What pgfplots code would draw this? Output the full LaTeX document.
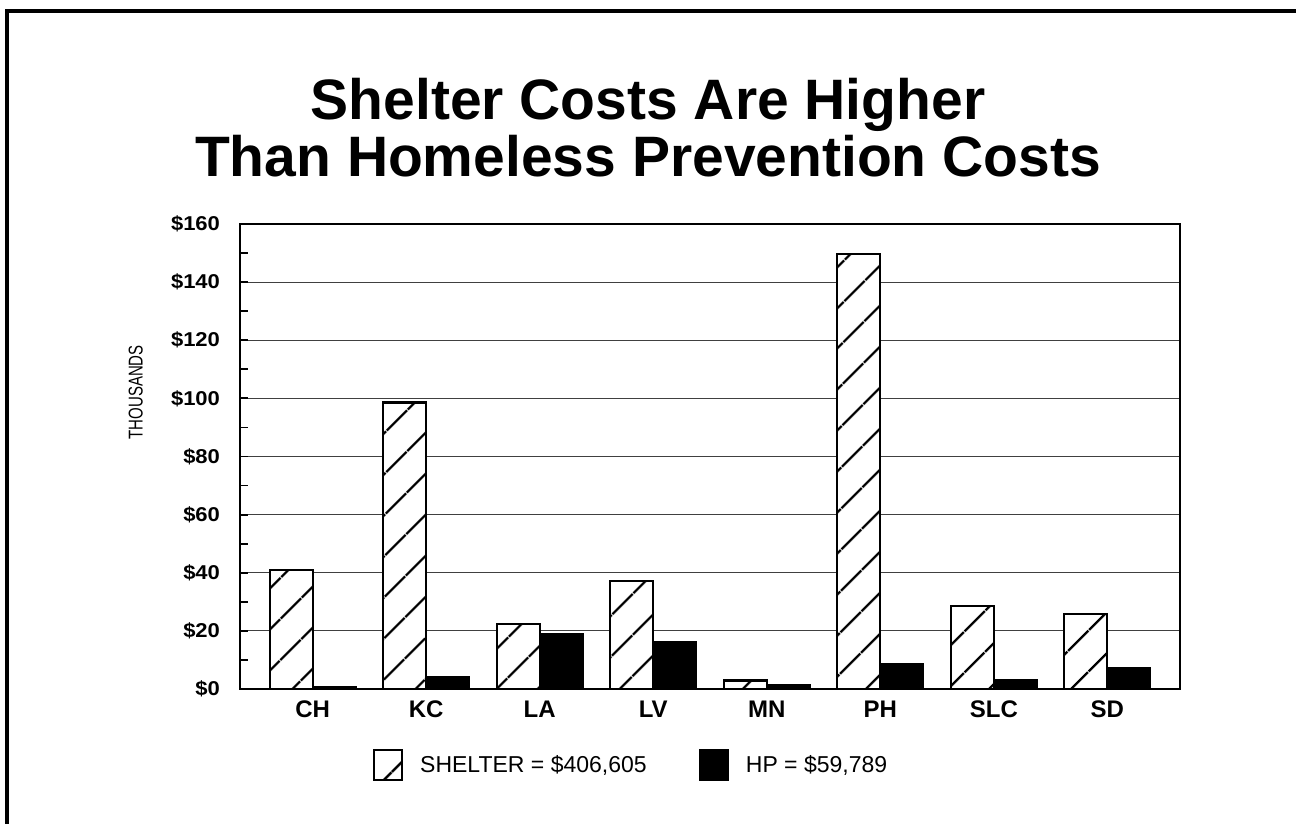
\documentclass[border=0pt]{standalone}
\usepackage{pgfplots}
\pgfplotsset{compat=1.18}
\usepackage{fontspec}
\setmainfont{Liberation Sans}
\newfontfamily\narrowfont[FakeStretch=0.75]{Liberation Sans}
\newfontfamily\widefont[FakeStretch=1.1]{Liberation Sans}
\usetikzlibrary{patterns.meta}

\pgfplotstableread{
x  shelter  hp
0  40.9     0.8
1  98.6     4.0
2  22.4     18.8
3  37.1     16.2
4  2.9      1.2
5  149.7    8.6
6  28.5     3.2
7  25.8     7.2
}\costdata

\begin{document}
\begin{tikzpicture}
\path[use as bounding box] (0,0) rectangle (648bp,412bp);
\draw[line width=2bp] (3.5bp,0) -- (3.5bp,406.5bp) -- (648bp,406.5bp);
\node[anchor=base, font=\fontsize{28.5bp}{30bp}\selectfont\bfseries] at (324bp,352bp) {Shelter Costs Are Higher};
\node[anchor=base, font=\fontsize{28.5bp}{30bp}\selectfont\bfseries] at (324bp,323.5bp) {Than Homeless Prevention Costs};
\begin{axis}[
  at={(120bp,67.5bp)}, anchor=south west,
  scale only axis, width=470bp, height=232.5bp,
  xmin=-0.64, xmax=7.64, ymin=0, ymax=160,
  ybar=0pt, bar width=21.5bp,
  xtick={0,...,7}, xticklabels={CH,KC,LA,LV,MN,PH,SLC,SD},
  x tick style={draw=none},
  xticklabel style={font=\fontsize{12bp}{14bp}\selectfont\bfseries, yshift=-2.5bp},
  ytick={0,20,...,160},
  yticklabels={\$0,\$20,\$40,\$60,\$80,\$100,\$120,\$140,\$160},
  yticklabel style={font=\widefont\fontsize{10bp}{12bp}\selectfont\bfseries, xshift=-6.5bp},
  minor y tick num=1,
  tick align=inside, ytick pos=left,
  major tick length=4bp, minor tick length=4bp,
  y tick style={line width=0.9bp, black},
  ymajorgrids, major grid style={line width=0.6bp, black!75},
  axis line style={line width=1.4bp},
  ylabel={THOUSANDS},
  ylabel style={font=\narrowfont\fontsize{10bp}{12bp}\selectfont, at={(rel axis cs:-0.111,0.638)}, anchor=center, rotate=0},
  legend columns=2,
  legend style={at={(rel axis cs:0.1415,-0.1634)}, anchor=west, draw=none, fill=none,
    inner sep=0pt, outer sep=0pt,
    font=\fontsize{11.5bp}{13bp}\selectfont,
    nodes={inner xsep=0pt, inner ysep=1bp},
    /tikz/every odd column/.append style={column sep=8.5bp},
    /tikz/every even column/.append style={column sep=26bp}},
  legend image code/.code={\draw[#1] (0bp,-7.5bp) rectangle (14bp,7.5bp);},
]
\addplot[draw=black, line width=1.1bp, fill=white,
  postaction={pattern={Lines[angle=45,distance=15bp,line width=1.3bp]}, pattern color=black}]
  table[x=x, y=shelter] {\costdata};
\addlegendentry{SHELTER = \$406,605}
\addplot[draw=black, line width=1.1bp, fill=black]
  table[x=x, y=hp] {\costdata};
\addlegendentry{HP = \$59,789}
\end{axis}
\end{tikzpicture}
\end{document}
